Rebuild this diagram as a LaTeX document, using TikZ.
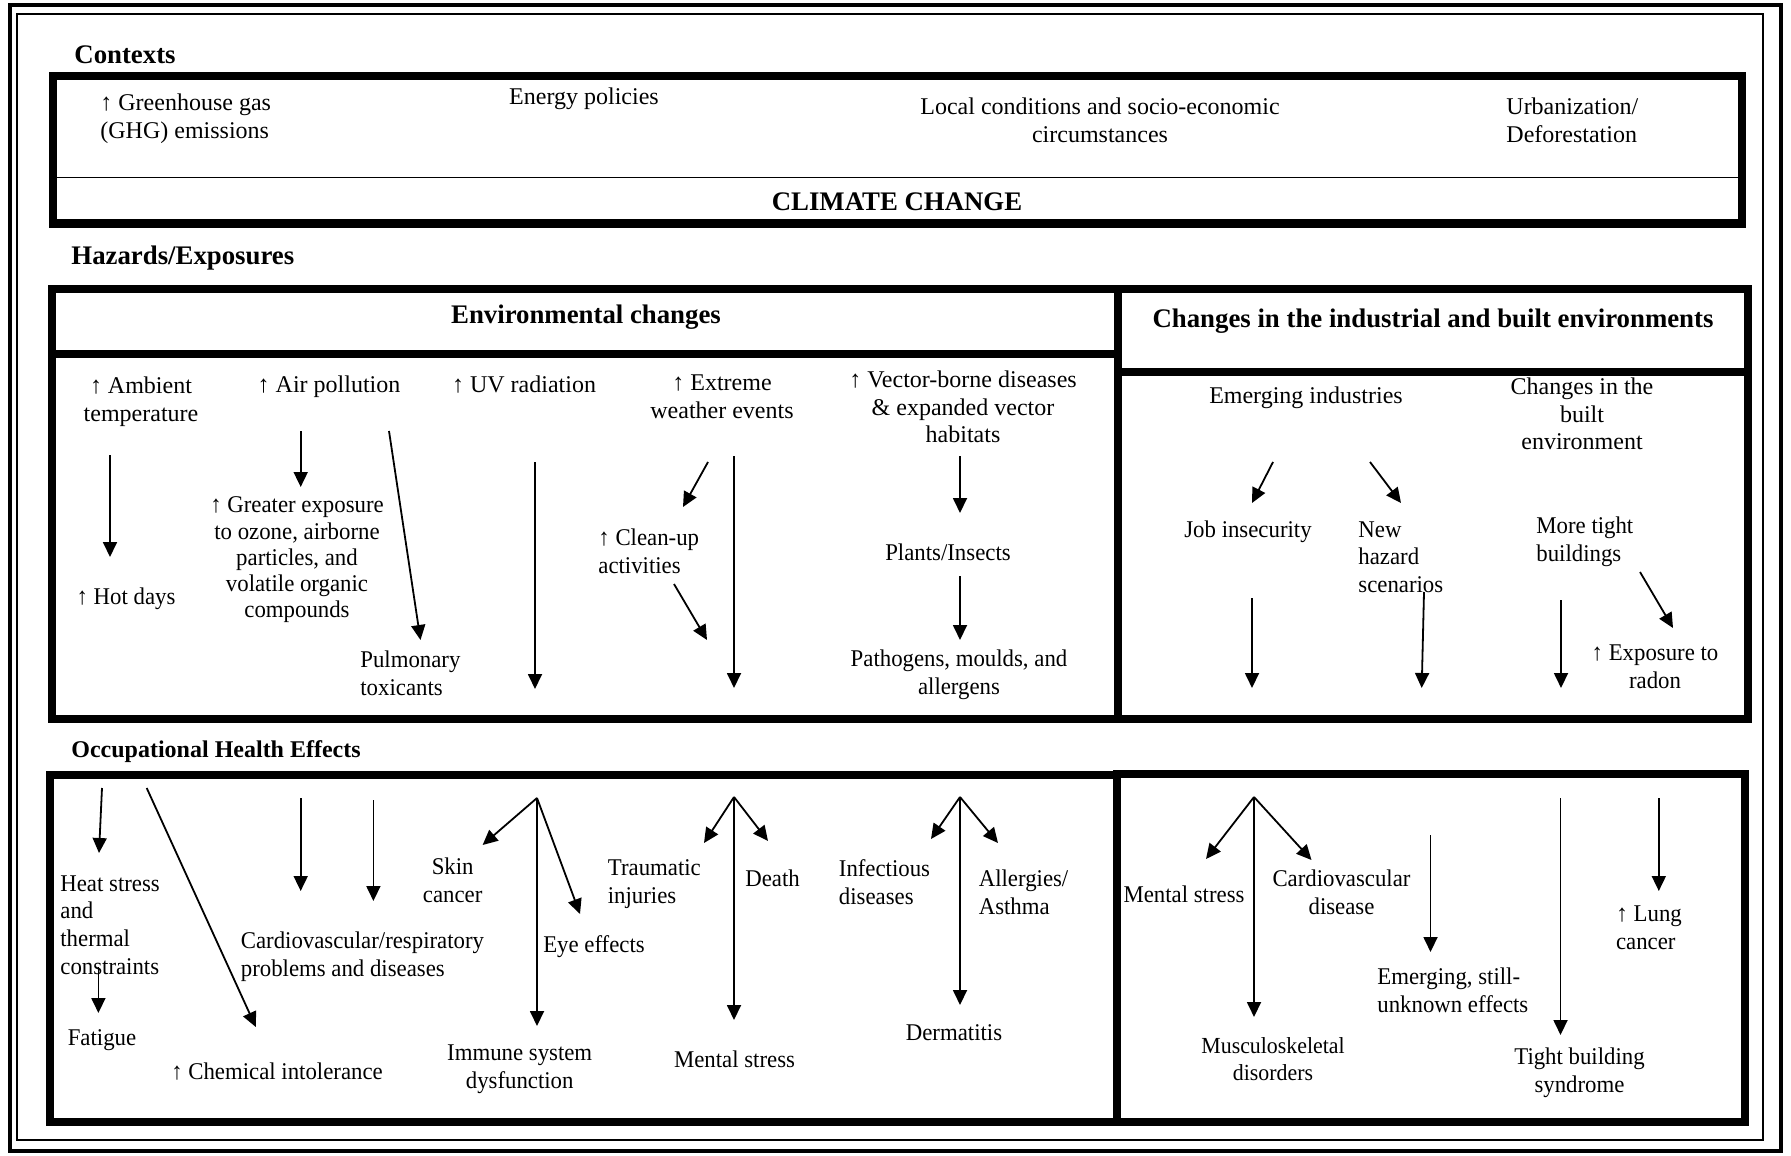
\documentclass[tikz,border=0pt]{standalone}
\usepackage{fontspec}
\setmainfont[FakeStretch=0.95, BoldFeatures={FakeStretch=1}]{Liberation Serif}
\newfontfamily\widefont{Liberation Serif}
\usetikzlibrary{arrows.meta}
\begin{document}
\begin{tikzpicture}[x=0.5pt, y=-0.5pt,
    >={Triangle[length=7.5pt,width=7pt]},
    txt/.style={inner sep=0pt, align=center, font=\fontsize{12}{13.8}\selectfont},
    wtxt/.style={txt, font=\widefont\fontsize{12}{13.8}\selectfont},
    ltxt/.style={txt, align=left, anchor=west},
    hdr/.style={inner sep=0pt, font=\fontsize{13.4}{15}\selectfont\bfseries},
    boxline/.style={line width=4pt},
    arr/.style={->, line width=0.9pt}]
    \useasboundingbox (0,0) rectangle (1791,1155);
    \draw[line width=2pt] (9.5,5.5) rectangle (1780.5,1150.5);
    \draw[line width=0.75pt] (17,14) rectangle (1763,1140);

    \node[hdr, anchor=west] (ctx) at (74,55) {Contexts};
    \draw[boxline] (52.5,76) rectangle (1742,223.5);
    \draw[line width=0.75pt] (52.5,177.5) -- (1742,177.5);
    \node[wtxt, align=left, anchor=west] (ghg) at (100,119) {↑ Greenhouse gas\\(GHG) emissions};
    \node[wtxt] (energy) at (584,99) {Energy policies};
    \node[wtxt] (local) at (1100,120) {Local conditions and socio-economic\\circumstances};
    \node[wtxt, align=left, anchor=west] (urban) at (1506,120) {Urbanization/\\Deforestation};
    \node[hdr] (cc) at (897,202) {CLIMATE CHANGE};

    \node[hdr, anchor=west] (haz) at (71,258) {Hazards/Exposures};
    \draw[boxline] (52,289) rectangle (1118,719);
    \draw[boxline] (52,354) -- (1118,354);
    \draw[boxline] (1118,289) rectangle (1748,719);
    \draw[boxline] (1118,372) -- (1748,372);
    \node[hdr] (env) at (586,317) {Environmental changes};
    \node[hdr] (ind) at (1433,321) {Changes in the industrial and built environments};

    \node[wtxt] (amb) at (141,402) {↑ Ambient\\temperature};
    \node[wtxt] (air) at (329,387) {↑ Air pollution};
    \node[wtxt] (uv) at (524,385) {↑ UV radiation};
    \node[txt] (hot) at (126,599) {↑ Hot days};
    \node[txt, font=\fontsize{12}{13.1}\selectfont] (gexp) at (297,560) {↑ Greater exposure\\to ozone, airborne\\particles, and\\volatile organic\\compounds};
    \node[ltxt] (pulm) at (360,673) {Pulmonary\\toxicants};
    \node[wtxt] (ext) at (722,397) {↑ Extreme\\weather events};
    \node[ltxt] (clean) at (598,551) {↑ Clean-up\\activities};
    \node[wtxt] (vec) at (963,407) {↑ Vector-borne diseases\\\& expanded vector\\habitats};
    \node[txt] (plants) at (948,552) {Plants/Insects};
    \node[txt] (path) at (959,675) {Pathogens, moulds, and\\allergens};

    \coordinate (a1) at (110,455);   \coordinate (b1) at (110,557);
    \coordinate (a2) at (300.7,431); \coordinate (b2) at (300.7,487);
    \coordinate (a3) at (389,431);   \coordinate (b3) at (420.5,640);
    \coordinate (a4) at (535,462);   \coordinate (b4) at (535,689);
    \coordinate (a5) at (708,462);   \coordinate (b5) at (683,507);
    \coordinate (a6) at (734,456);   \coordinate (b6) at (734,688);
    \coordinate (a7) at (674,584);   \coordinate (b7) at (707,640);
    \coordinate (a8) at (960,456);   \coordinate (b8) at (960,513);
    \coordinate (a9) at (960,576);   \coordinate (b9) at (960,640);
    \draw[arr] (a1) -- (b1);
    \draw[arr] (a2) -- (b2);
    \draw[arr] (a3) -- (b3);
    \draw[arr] (a4) -- (b4);
    \draw[arr] (a5) -- (b5);
    \draw[arr] (a6) -- (b6);
    \draw[arr] (a7) -- (b7);
    \draw[arr] (a8) -- (b8);
    \draw[arr] (a9) -- (b9);

    \node[wtxt] (emerg) at (1306,398) {Emerging industries};
    \node[wtxt] (chbuilt) at (1582,414) {Changes in the\\built\\environment};
    \node[txt] (job) at (1248,532) {Job insecurity};
    \node[ltxt] (newhaz) at (1358,557) {New\\hazard\\scenarios};
    \node[ltxt] (tight) at (1536,542) {More tight\\buildings};
    \node[txt] (radon) at (1655,667) {↑ Exposure to\\radon};

    \coordinate (c1) at (1273,462);  \coordinate (d1) at (1252,503);
    \coordinate (c2) at (1370,462);  \coordinate (d2) at (1401,503);
    \coordinate (c3) at (1640,572);  \coordinate (d3) at (1673,628);
    \coordinate (c4) at (1252,598);  \coordinate (d4) at (1252,688);
    \coordinate (c5) at (1424,592);  \coordinate (d5) at (1421.7,688);
    \coordinate (c6) at (1561,600);  \coordinate (d6) at (1561,688);
    \draw[arr] (c1) -- (d1);
    \draw[arr] (c2) -- (d2);
    \draw[arr] (c3) -- (d3);
    \draw[arr] (c4) -- (d4);
    \draw[arr] (c5) -- (d5);
    \draw[arr] (c6) -- (d6);

    \node[hdr, anchor=west, font=\fontsize{12}{14}\selectfont\bfseries] (occ) at (71,752) {Occupational Health Effects};
    \draw[boxline] (49.5,775) rectangle (1117,1122);
    \draw[boxline] (1117,774) rectangle (1745,1122);

    \node[ltxt] (heat) at (60,925) {Heat stress\\and\\thermal\\constraints};
    \node[txt] (fatigue) at (102,1040) {Fatigue};
    \node[txt] (chem) at (277,1072) {↑ Chemical intolerance};
    \node[ltxt] (cardio) at (240.5,957) {Cardiovascular/respiratory\\problems and diseases};
    \node[txt] (skin) at (452.7,880) {Skin\\cancer};
    \node[txt] (eye) at (594,947) {Eye effects};
    \node[txt] (immune) at (519.7,1069) {Immune system\\dysfunction};
    \node[ltxt] (trauma) at (607.5,884) {Traumatic\\injuries};
    \node[ltxt] (death) at (745,878) {Death};
    \node[txt] (ment1) at (734.5,1059) {Mental stress};
    \node[ltxt] (infect) at (838.5,882) {Infectious\\diseases};
    \node[ltxt] (allerg) at (978.4,892) {Allergies/\\Asthma};
    \node[txt] (derm) at (954,1033) {Dermatitis};

    \coordinate (e1) at (102,788);   \coordinate (f1) at (99,853);
    \coordinate (e2) at (98.4,967);  \coordinate (f2) at (98.4,1013);
    \coordinate (e3) at (146.7,788); \coordinate (f3) at (255.8,1027);
    \coordinate (e4) at (300.7,798); \coordinate (f4) at (300.7,891);
    \coordinate (e5) at (373.4,800); \coordinate (f5) at (373.4,901);
    \draw[arr] (e1) -- (f1);
    \draw[arr] (e2) -- (f2);
    \draw[arr] (e3) -- (f3);
    \draw[arr] (e4) -- (f4);
    \draw[arr] (e5) -- (f5);

    \coordinate (huv) at (537,798);
    \coordinate (hx) at (734,797);
    \coordinate (hv) at (960,797);
    \coordinate (hi) at (1254,797);
    \draw[arr] (huv) -- (482.6,845);
    \draw[arr] (huv) -- (580,914);
    \draw[arr] (huv) -- (537,1026);
    \draw[arr] (hx) -- (704,843);
    \draw[arr] (hx) -- (768,841);
    \draw[arr] (hx) -- (734,1020);
    \draw[arr] (hv) -- (931,839);
    \draw[arr] (hv) -- (998,843);
    \draw[arr] (hv) -- (960,1005);

    \node[txt] (ment2) at (1184,894) {Mental stress};
    \node[txt] (cardio2) at (1341.5,892) {Cardiovascular\\disease};
    \node[txt, font=\fontsize{11.5}{13.5}\selectfont] (musc) at (1273,1059) {Musculoskeletal\\disorders};
    \node[ltxt] (emeff) at (1377,990) {Emerging, still-\\unknown effects};
    \node[txt] (tbs) at (1579.5,1073) {Tight building\\syndrome};
    \node[ltxt] (lung) at (1615.6,928) {\textbf{↑} Lung\\cancer};

    \draw[arr] (hi) -- (1206,859);
    \draw[arr] (hi) -- (1311.5,860);
    \draw[arr] (hi) -- (1254,1017);
    \coordinate (g1) at (1430.5,835); \coordinate (k1) at (1430.5,952);
    \coordinate (g2) at (1560.5,798); \coordinate (k2) at (1560.5,1035);
    \coordinate (g3) at (1658.8,798); \coordinate (k3) at (1658.8,891);
    \draw[arr] (g1) -- (k1);
    \draw[arr] (g2) -- (k2);
    \draw[arr] (g3) -- (k3);
\end{tikzpicture}
\end{document}
